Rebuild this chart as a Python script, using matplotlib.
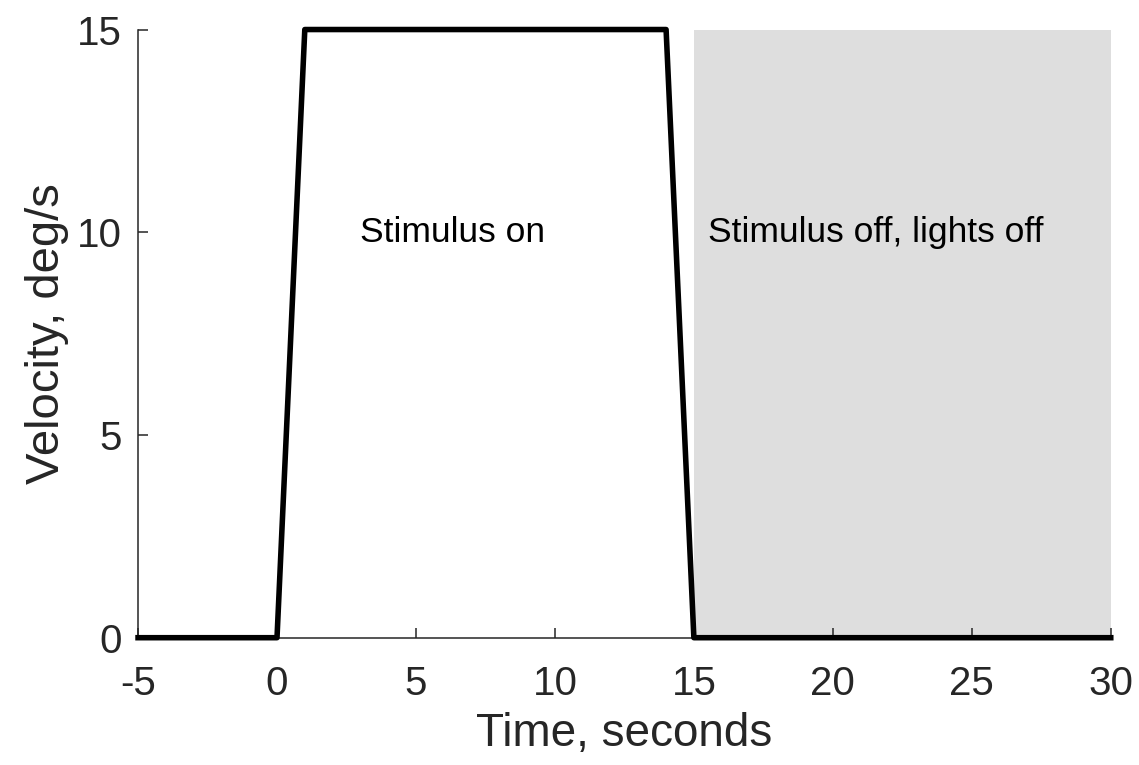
import matplotlib.pyplot as plt
from matplotlib.patches import Rectangle

plt.rcParams['font.family'] = ['Liberation Sans', 'DejaVu Sans']
plt.rcParams['axes.unicode_minus'] = False

# stimulus velocity profile
time_s = [-5, 0, 1, 14, 15, 30]
velocity = [0, 0, 15, 15, 0, 0]

# dark period (stimulus off, lights off)
dark_start, dark_end = 15, 30
dark_top = 15

xticks = [-5, 0, 5, 10, 15, 20, 25, 30]
yticks = [0, 5, 10, 15]

fig = plt.figure(figsize=(11.39, 7.65), dpi=100)
ax = fig.add_axes([0.1212, 0.1664, 0.8540, 0.7950])

ax.add_patch(Rectangle((dark_start, 0), dark_end - dark_start, dark_top,
                       facecolor='#dedede', edgecolor='none', zorder=0))
ax.plot(time_s, velocity, color='black', linewidth=4.0, clip_on=False, zorder=3)

ax.text(3, 10, 'Stimulus on', fontsize=25.5, va='center', ha='left')
ax.text(15.5, 10, 'Stimulus off, lights off', fontsize=25.5, va='center', ha='left')

ax.set_xlim(-5, 30)
ax.set_ylim(0, 15)
ax.set_xticks(xticks)
ax.set_yticks(yticks)
ax.set_xlabel('Time, seconds', fontsize=33, color='#262626', labelpad=6)
ax.set_ylabel('Velocity, deg/s', fontsize=34, color='#262626', labelpad=5)

ax.spines['top'].set_visible(False)
ax.spines['right'].set_visible(False)
for s in ['left', 'bottom']:
    ax.spines[s].set_color('#262626')
    ax.spines[s].set_linewidth(1.1)
ax.tick_params(direction='in', length=7, width=1.1, color='#262626',
               labelsize=29, labelcolor='#262626')
ax.tick_params(axis='y', pad=12)
ax.tick_params(axis='x', pad=20)

fig.savefig('out.png', dpi=100)
